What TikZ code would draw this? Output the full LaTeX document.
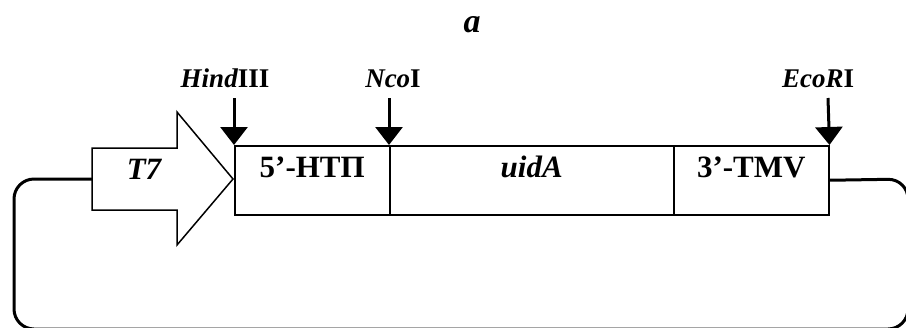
\documentclass[tikz,border=0pt]{standalone}
\usepackage{fontspec}
\setmainfont{Liberation Serif}
\usetikzlibrary{arrows.meta,calc}
\begin{document}
\begin{tikzpicture}[x=1bp,y=-1bp,
  box/.style={draw,line width=1.5bp,minimum height=69bp,anchor=north west,inner sep=0pt},
  lbl/.style={font=\fontsize{27bp}{30bp}\selectfont\bfseries,inner sep=0pt,anchor=base},
  blbl/.style={lbl,font=\fontsize{31bp}{34bp}\selectfont\bfseries},
  cut/.style={line width=3bp,-{Triangle[width=27bp,length=18bp]}},
  loop/.style={line width=3bp,rounded corners=20bp}]
\useasboundingbox (0,0) rectangle (906,327);
\clip (0,0) rectangle (906,327);
% title
\node[lbl,font=\fontsize{34bp}{36bp}\selectfont\bfseries\itshape] (title) at (472,32) {a};
% boxes
\node[box,minimum width=155bp] (htp) at (234,145) {};
\node[box,minimum width=284bp] (uid) at (389,145) {};
\node[box,minimum width=155bp] (tmv) at (673,145) {};
\node[blbl] (htpt) at ($(htp.north)+(0,32)$) {5’-HTП};
\node[blbl] (uidt) at ($(uid.north)+(0,32)$) {\itshape uidA};
\node[blbl] (tmvt) at ($(tmv.north)+(0,32)$) {3’-TMV};
% T7 promoter arrow
\draw[line width=1.5bp,fill=white] (92,148) -- (177,148) -- (177,112) -- (233,179) -- (177,245) -- (177,210) -- (92,210) -- cycle;
\coordinate (t7w) at (92,179);
\node[blbl] (t7t) at (144,179) {\itshape T7};
% loop
\draw[loop] (t7w) -- (14,179) -- (14,329) -- (908,329) -- (908,179) -- (tmv.east);
% restriction sites
\node[lbl] (hind) at (225,87) {\itshape Hind\upshape III};
\node[lbl] (nco) at (393,87) {\itshape Nco\upshape I};
\node[lbl] (eco) at (818,87) {\itshape EcoR\upshape I};
\coordinate (hs) at (234,98);
\coordinate (ns) at (389,98);
\coordinate (es) at (828,98);
\draw[cut] (hs) -- (htp.north west);
\draw[cut] (ns) -- (uid.north west);
\draw[cut] (es) -- (tmv.north east);
\end{tikzpicture}
\end{document}
